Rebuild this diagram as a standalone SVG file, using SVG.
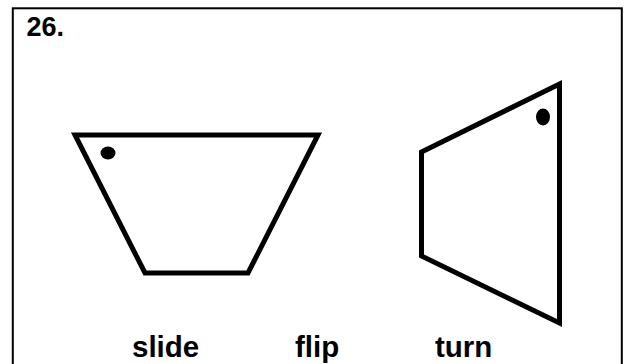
<svg xmlns="http://www.w3.org/2000/svg" width="628" height="364" viewBox="0 0 628 364">
<style>
.shape{fill:none;stroke:#000;stroke-width:5;stroke-linejoin:miter;stroke-miterlimit:10}
.lbl{font-family:"Liberation Sans",Arial,sans-serif;font-weight:bold;fill:#000}
</style>
<rect x="0" y="0" width="628" height="364" fill="#fff"/>
<rect x="12.8" y="8.3" width="609" height="370" fill="none" stroke="#000" stroke-width="2"/>
<text class="lbl" x="26.5" y="36" font-size="27">26.</text>
<g id="trapezoid">
<polygon class="shape" points="75,135 318,135 248,273 145,273"/>
<ellipse cx="108" cy="153" rx="7.5" ry="6.5" fill="#000"/>
</g>
<g id="quad">
<polygon class="shape" points="421.5,152 559.5,84 559.5,323 421.5,256"/>
<ellipse cx="543" cy="117" rx="7" ry="8.5" fill="#000"/>
</g>
<g id="labels">
<text class="lbl" x="132" y="357" font-size="29.5">slide</text>
<text class="lbl" x="295" y="357" font-size="29.5">flip</text>
<text class="lbl" x="435" y="357" font-size="29.5">turn</text>
</g>
</svg>
